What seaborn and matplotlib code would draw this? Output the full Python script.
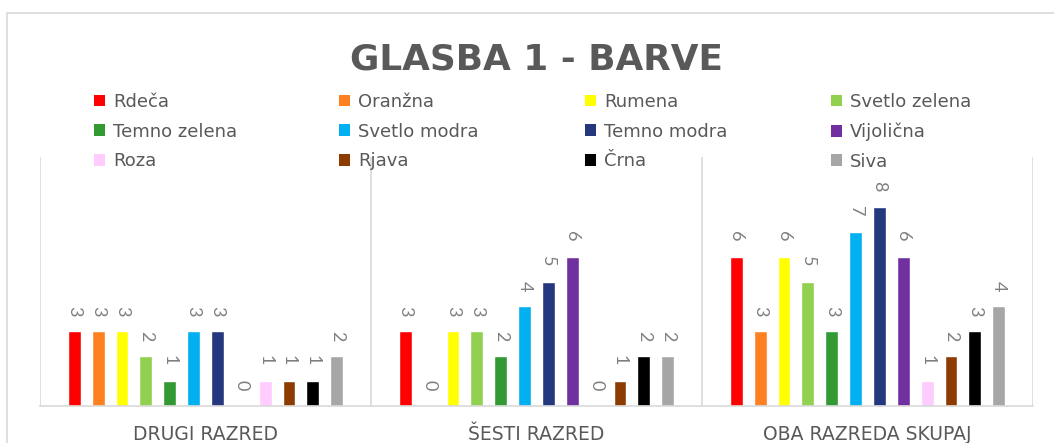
import matplotlib
matplotlib.use("Agg")
import matplotlib.pyplot as plt
from matplotlib.patches import Patch, Rectangle
import seaborn as sns
import pandas as pd

# ---- data ----
groups = ["DRUGI RAZRED", "ŠESTI RAZRED", "OBA RAZREDA SKUPAJ"]
colour_names = ["Rdeča", "Oranžna", "Rumena", "Svetlo zelena", "Temno zelena",
                "Svetlo modra", "Temno modra", "Vijolična", "Roza", "Rjava",
                "Črna", "Siva"]
drugi = [3, 3, 3, 2, 1, 3, 3, 0, 1, 1, 1, 2]
sesti = [3, 0, 3, 3, 2, 4, 5, 6, 0, 1, 2, 2]
oba = [6, 3, 6, 5, 3, 7, 8, 6, 1, 2, 3, 4]
palette = ["#FF0000", "#FF8021", "#FFFF00", "#92D050", "#339933", "#00B0F0",
           "#26387D", "#7030A0", "#FFCCFF", "#8C3C00", "#000000", "#A6A6A6"]

rows = []
for g, vals in zip(groups, [drugi, sesti, oba]):
    for name, v in zip(colour_names, vals):
        rows.append({"razred": g, "barva": name, "stevilo": v})
df = pd.DataFrame(rows)

sns.set_theme(style="white")
plt.rcParams["font.family"] = ["DejaVu Sans"]

TXT = "#595959"
GRID = "#D9D9D9"

fig = plt.figure(figsize=(10.54, 4.43), dpi=100)
ax = fig.add_axes([40 / 1054, 1 - 406 / 443, (1033 - 40) / 1054, (406 - 157) / 443])

sns.barplot(data=df, x="razred", y="stevilo", hue="barva", order=groups,
            hue_order=colour_names, palette=palette, width=0.865, gap=0.46,
            saturation=1, legend=False, ax=ax, errorbar=None)

for cont in ax.containers:
    ax.bar_label(cont, padding=11, rotation=270, color="#7F7F7F", fontsize=13,
                 fontfamily="Lato")

ax.set_xlim(-0.5, 2.5)
ax.set_ylim(0, 10)
ax.set_yticks([])
ax.set_xlabel("")
ax.set_ylabel("")
for s in ["top", "right", "left"]:
    ax.spines[s].set_visible(False)
ax.spines["bottom"].set_color(GRID)
ax.spines["bottom"].set_linewidth(1.2)
for xv in [-0.5, 0.5, 1.5, 2.5]:
    ax.axvline(xv, color=GRID, lw=1.2, zorder=0)
ax.tick_params(axis="x", length=0, pad=14, labelsize=13.5, labelcolor=TXT)

# title
fig.text(536 / 1054, 1 - 59 / 443, "GLASBA 1 - BARVE", ha="center", va="center",
         fontsize=25.8, fontweight="bold", color=TXT)

# legend: four columns
col_x = [94, 339, 585, 831]
for c in range(4):
    idx = [c, c + 4, c + 8]
    handles = [Patch(facecolor=palette[i], edgecolor="none", label=colour_names[i]) for i in idx]
    fig.legend(handles=handles, loc="upper left",
               bbox_to_anchor=(col_x[c] / 1054, 1 - 93 / 443),
               frameon=False, fontsize=13, handlelength=0.62, handleheight=0.62,
               handletextpad=0.45, labelspacing=0.64, borderpad=0, borderaxespad=0,
               labelcolor=TXT)

# outer chart border
fig.patches.append(Rectangle((7 / 1054, -0.1), 1.2, 1.1 - 13 / 443,
                             transform=fig.transFigure, fill=False,
                             edgecolor=GRID, lw=1.2))

fig.savefig("out.png", dpi=100)
